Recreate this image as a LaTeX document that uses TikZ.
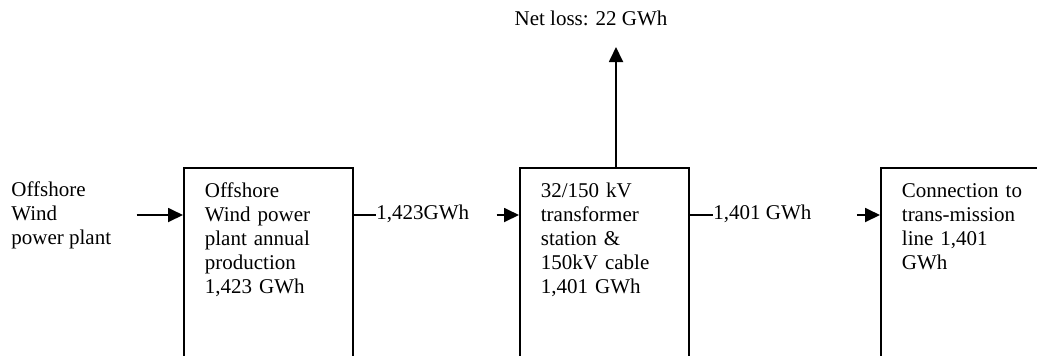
\documentclass[tikz,border=0pt]{standalone}
\usepackage{fontspec}
\setmainfont{Liberation Serif}
\usetikzlibrary{arrows.meta, positioning, calc}

\begin{document}
\begin{tikzpicture}[
    x=0.5pt, y=-0.5pt,
    font=\fontsize{10.5pt}{12pt}\selectfont,
    block/.style={rectangle, draw=black, line width=0.9pt, anchor=north west, align=left, text width=63.5pt, inner xsep=10.5pt, inner ysep=8pt, text height=7pt, text depth=100pt},
    flowlabel/.style={inner sep=0pt, anchor=west, text height=7pt, text depth=3pt},
    arrow/.style={line width=0.9pt, -{Triangle[length=7.5pt, width=7pt]}},
    link/.style={line width=0.9pt}
]
\clip (0,0) rectangle (1037,355);

% Source
\node[inner sep=0pt, anchor=west, align=left] (src) at (11,215) {Offshore\\Wind\\power plant};

% Blocks
\node[block] (plant) at (183,167) {Offshore\\Wind power\\plant annual\\production\\1,423 GWh};
\node[block] (station) at (519,167) {32/150 kV\\transformer\\station \&\\150kV cable\\1,401 GWh};
\node[block] (grid) at (880,167) {Connection to\\trans-mission\\line 1,401\\GWh};

% Flow labels
\node[flowlabel] (prod) at (376,215) {1,423GWh};
\node[flowlabel] (trans) at (713,215) {1,401 GWh};
\node[inner sep=0pt, anchor=base] (loss) at (591,25) {Net loss: 22 GWh};
\coordinate (lossend) at (616,47);

% Connections
\draw[arrow] ([xshift=12.5pt]src.east) -- (src -| plant.west);
\draw[link] (prod -| plant.east) -- (prod.west);
\draw[arrow] ([xshift=13.5pt]prod.east) -- (prod -| station.west);
\draw[link] (trans -| station.east) -- (trans.west);
\draw[arrow] ([xshift=22.5pt]trans.east) -- (trans -| grid.west);
\draw[arrow] (lossend |- station.north) -- (lossend);

\end{tikzpicture}
\end{document}
